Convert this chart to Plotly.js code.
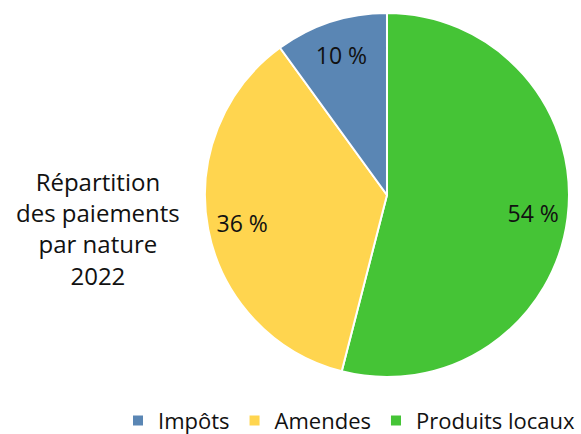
<!DOCTYPE html>
<html><head><meta charset="utf-8">
<script src="https://cdn.plot.ly/plotly-3.0.1.min.js"></script>
<style>html,body{margin:0;padding:0;background:#fff}</style>
</head><body>
<div id="chart" style="width:581px;height:434px"></div>
<script>
const categories = ["Produits locaux", "Amendes", "Impôts"];
const values = [54, 36, 10];
const colors = ["#45C436", "#FFD54F", "#5A86B4"];

const pieDomain = {x: [0.3528, 0.9793], y: [0.1313, 0.970]};

const data = [{
  type: "pie",
  labels: categories,
  values: values,
  sort: false,
  direction: "clockwise",
  rotation: 0,
  marker: {colors: colors, line: {color: "#ffffff", width: 2}},
  textinfo: "none",
  hoverinfo: "label+percent",
  domain: pieDomain
}, {
  type: "pie",
  labels: categories,
  values: values,
  sort: false,
  direction: "clockwise",
  rotation: 0,
  hole: 0.62,
  showlegend: false,
  marker: {colors: ["rgba(0,0,0,0)", "rgba(0,0,0,0)", "rgba(0,0,0,0)"], line: {width: 0}},
  texttemplate: "%{value} %",
  textposition: "inside",
  insidetextorientation: "horizontal",
  textfont: {family: "Open Sans, sans-serif", size: 23, color: "#111111"},
  hoverinfo: "skip",
  domain: pieDomain
}];

const layout = {
  width: 581, height: 434,
  margin: {l: 0, r: 0, t: 0, b: 0, autoexpand: false},
  paper_bgcolor: "#ffffff",
  font: {family: "Open Sans, sans-serif", color: "#111111"},
  showlegend: true,
  legend: {orientation: "h", x: 1.0, xanchor: "right", y: -0.018, yanchor: "bottom",
           font: {size: 22, color: "#111111"}, itemwidth: 30, traceorder: "reversed"},
  annotations: [{
    text: "Répartition<br>des paiements<br>par nature<br>2022",
    x: 0.168, y: 0.473, xref: "paper", yref: "paper",
    xanchor: "center", yanchor: "middle", showarrow: false, align: "center",
    font: {size: 24, color: "#111111", family: "Open Sans, sans-serif"}
  }]
};

Plotly.newPlot("chart", data, layout, {displayModeBar: false});
</script>
</body></html>
